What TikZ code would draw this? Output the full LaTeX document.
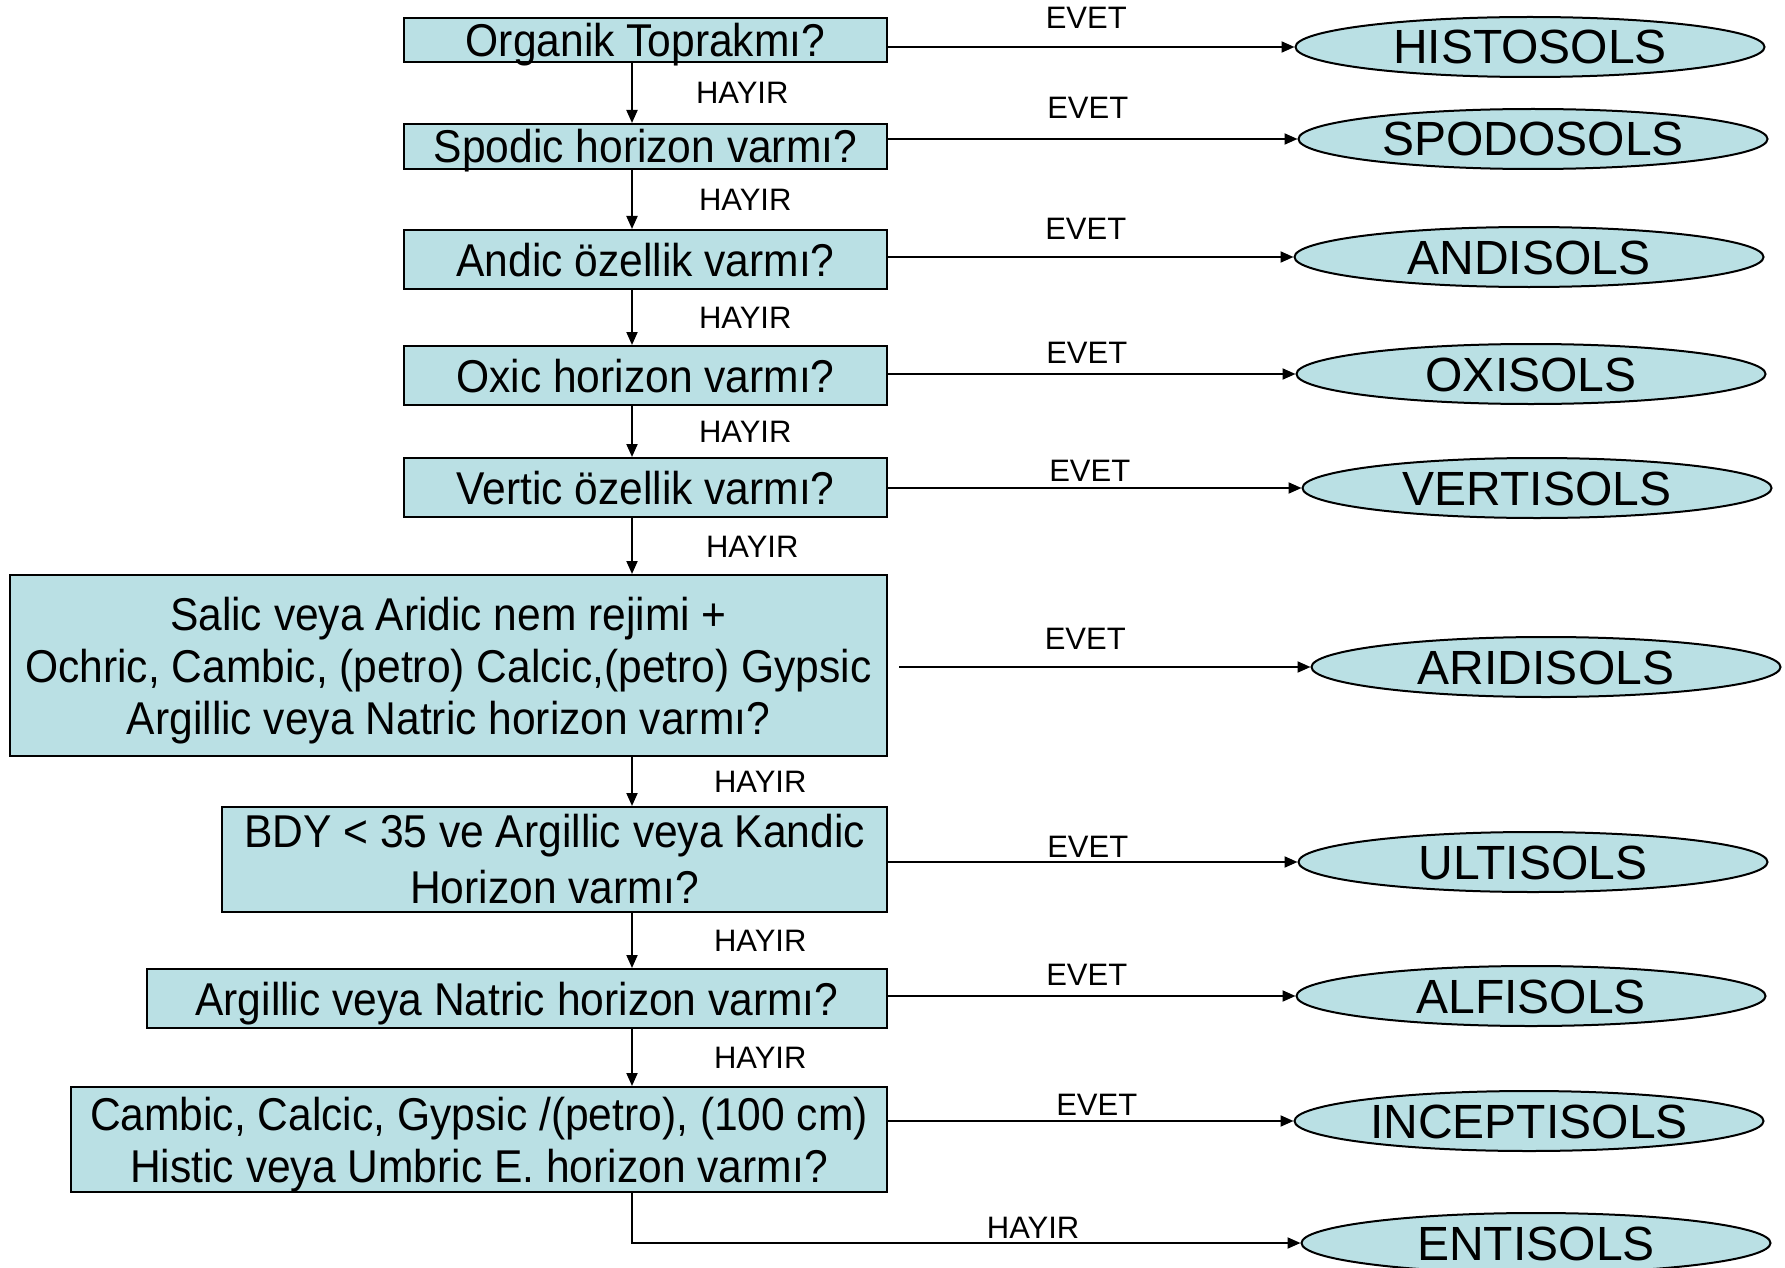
\documentclass[tikz,border=0pt]{standalone}
\usepackage{fontspec}
\setmainfont{Liberation Sans}
\newfontfamily\narrowfont[FakeStretch=0.925]{Liberation Sans}
\usepackage{xcolor}
\usetikzlibrary{arrows.meta,positioning,shapes.geometric,calc}

\definecolor{soilfill}{RGB}{186,224,228}
\newcommand{\qfont}{\fontsize{46}{52}\narrowfont}
\newcommand{\soilfont}{\fontsize{48}{52}\selectfont}
\newcommand{\labfont}{\fontsize{31}{34}\selectfont}
\newcommand{\topstrut}{\rule{0pt}{43pt}}

\begin{document}
\begin{tikzpicture}[
  x=1pt, y=-1pt,
  line width=2pt,
  qbox/.style={draw, fill=soilfill, inner sep=0pt, align=center, font=\qfont, anchor=north east},
  qone/.style={qbox, text height=38pt, text depth=5pt},
  soil/.style={draw, ellipse, fill=soilfill, minimum width=469pt, minimum height=60pt,
    inner sep=0pt, text height=34pt, text depth=0pt, font=\soilfont},
  lab/.style={font=\labfont, inner sep=0pt, text height=22pt, text depth=0pt},
  >={Triangle[length=13pt,width=11pt]},
]
\useasboundingbox (0,0) rectangle (1785,1268);
\coordinate (spine) at (632,0);

% question boxes, right edges aligned
\node[qone, minimum width=483pt, minimum height=44pt] (organik) at (888,17) {Organik Toprakmı?};
\node[qone, minimum width=483pt, minimum height=45pt] (spodic) at (888,123) {Spodic horizon varmı?};
\node[qone, minimum width=483pt, minimum height=59pt] (andic) at (888,229) {Andic özellik varmı?};
\node[qone, minimum width=483pt, minimum height=59pt] (oxic) at (888,345) {Oxic horizon varmı?};
\node[qone, minimum width=483pt, minimum height=59pt] (vertic) at (888,457) {Vertic özellik varmı?};
\node[qbox, minimum width=877pt, minimum height=181pt] (salic) at (888,574)
  {\topstrut Salic veya Aridic nem rejimi +\\Ochric, Cambic, (petro) Calcic,(petro) Gypsic\\Argillic veya Natric horizon varmı?};
\node[qbox, minimum width=665pt, minimum height=105pt] (bdy) at (888,806)
  {BDY < 35 ve Argillic veya Kandic\\[4pt]Horizon varmı?};
\node[qone, minimum width=740pt, minimum height=59pt] (argillic) at (888,968) {Argillic veya Natric horizon varmı?};
\node[qbox, minimum width=816pt, minimum height=105pt] (cambic) at (888,1086)
  {\topstrut Cambic, Calcic, Gypsic /(petro), (100 cm)\\Histic veya Umbric E. horizon varmı?};

% soil orders
\node[soil] (histosols) at (1530,47) {HISTOSOLS};
\node[soil] (spodosols) at (1533,139) {SPODOSOLS};
\node[soil] (andisols) at (1529,257) {ANDISOLS};
\node[soil] (oxisols) at (1531,374) {OXISOLS};
\node[soil] (vertisols) at (1537,488) {VERTISOLS};
\node[soil] (aridisols) at (1546,667) {ARIDISOLS};
\node[soil] (ultisols) at (1533,862) {ULTISOLS};
\node[soil] (alfisols) at (1531,996) {ALFISOLS};
\node[soil] (inceptisols) at (1529,1121) {INCEPTISOLS};
\node[soil] (entisols) at (1536,1243) {ENTISOLS};

% EVET branches
\foreach \q/\s/\h in {organik/histosols/17, spodic/spodosols/19, andic/andisols/16,
    oxic/oxisols/10, vertic/vertisols/6, bdy/ultisols/4, argillic/alfisols/10}
  { \draw[->] (\s.west -| \q.east) -- node[lab, above=\h pt, xshift=-5pt] {EVET} (\s.west); }
\draw[->, shorten <=11pt] (aridisols.west -| salic.east) -- node[lab, above=17pt, xshift=-14pt] {EVET} (aridisols.west);
\draw[->] (inceptisols.west -| cambic.east) -- node[lab, above=5pt, xshift=6pt] {EVET} (inceptisols.west);

% HAYIR branches
\foreach \a/\b/\d in {organik/spodic/63, spodic/andic/66, andic/oxic/66, oxic/vertic/66,
    vertic/salic/73, salic/bdy/81, bdy/argillic/81, argillic/cambic/81}
  { \draw[->] (\a.south -| spine) -- node[lab, right=\d pt] {HAYIR} (\b.north -| spine); }
\draw[->] (cambic.south -| spine) |- node[lab, above=4pt, pos=0.8] {HAYIR} (entisols.west);
\end{tikzpicture}
\end{document}
